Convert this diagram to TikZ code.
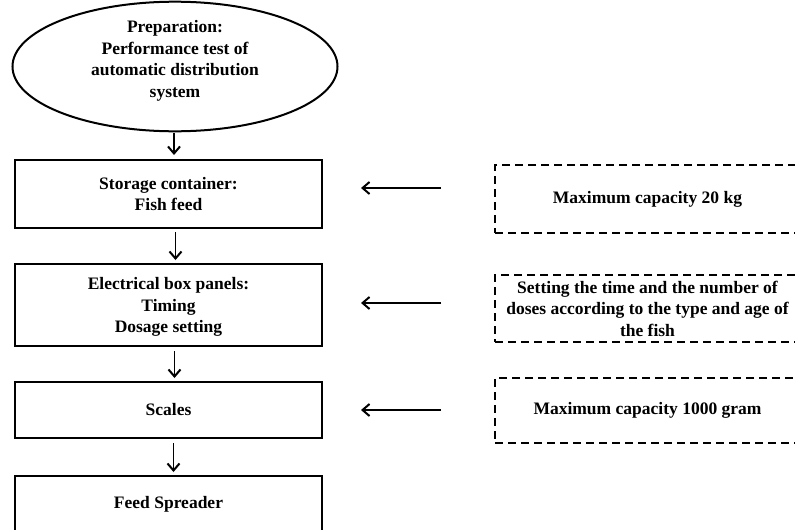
\documentclass[tikz,border=0pt]{standalone}
\usepackage{fontspec}
\setmainfont{Liberation Serif}
\usetikzlibrary{shapes.geometric,arrows.meta}
\tikzset{
  txt/.style={font=\fontsize{17.5}{21.5}\selectfont\bfseries, align=center, inner sep=0pt},
  solidbox/.style={txt, draw, line width=2pt, rectangle, minimum width=307pt},
  dashbox/.style={txt, draw, line width=2pt, rectangle, minimum width=305pt, dash pattern=on 8pt off 5pt},
  arr/.style={line width=1.8pt, -{Straight Barb[length=7pt,width=12pt,line width=2pt]}}
}
\begin{document}
\begin{tikzpicture}[x=1pt,y=-1pt]
\useasboundingbox (0,0) rectangle (795,530);
\clip (0,0) rectangle (795,530);
\fill[white] (0,0) rectangle (795,530);
\node[txt, draw, ellipse, line width=2pt, minimum width=325pt, minimum height=117pt] (prep) at (175,66.5)
  {Preparation:\\Performance test of\\automatic distribution\\system\\[-6.5pt]\mbox{}};
\node[solidbox, minimum height=68pt] (store) at (168.5,194) {Storage container:\\Fish feed};
\node[solidbox, minimum height=82pt] (elec) at (168.5,305) {\rule{0pt}{16pt}Electrical box panels:\\Timing\\Dosage setting};
\node[solidbox, minimum height=56pt] (scales) at (168.5,410) {Scales};
\node[solidbox, minimum height=56pt] (spread) at (168.5,504) {Feed Spreader};
\node[dashbox, minimum height=68pt] (d1) at (647.5,199) {Maximum capacity 20 kg};
\node[dashbox, minimum height=67pt] (d2) at (647.5,308.5) {Setting the time and the number of\\doses according to the type and age of\\the fish};
\node[dashbox, minimum height=65pt] (d3) at (647.5,410.5) {Maximum capacity 1000 gram};
\draw[arr, shorten <=1pt, shorten >=4pt] ([xshift=-1pt]prep.south) -- ([xshift=5.5pt]store.north);
\draw[arr, shorten <=3pt, shorten >=3pt] ([xshift=7pt]store.south) -- ([xshift=7pt]elec.north);
\draw[arr, shorten <=4pt, shorten >=3pt] ([xshift=6pt]elec.south) -- ([xshift=6pt]scales.north);
\draw[arr, shorten <=4pt, shorten >=3pt] ([xshift=5pt]scales.south) -- ([xshift=5pt]spread.north);
\draw[arr, shorten <=53pt, shorten >=38pt] ([yshift=11pt]d1.west) -- ([yshift=6pt]store.east);
\draw[arr, shorten <=53pt, shorten >=38pt] ([yshift=5.5pt]d2.west) -- ([yshift=2pt]elec.east);
\draw[arr, shorten <=53pt, shorten >=38pt] ([yshift=0.5pt]d3.west) -- (scales.east);
\end{tikzpicture}
\end{document}
